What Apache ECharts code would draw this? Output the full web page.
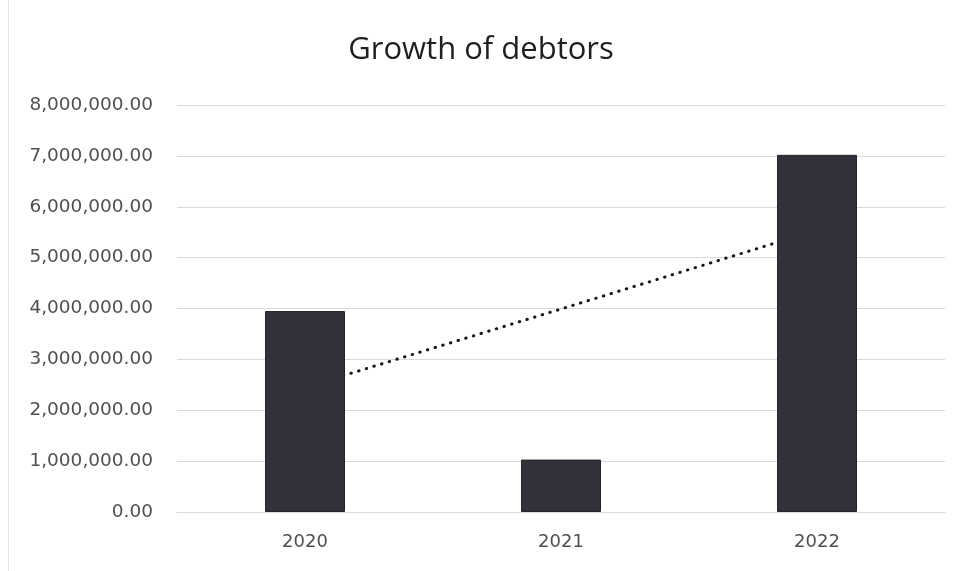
<!DOCTYPE html>
<html>
<head>
<meta charset="utf-8">
<script src="https://cdn.jsdelivr.net/npm/echarts@6/dist/echarts.min.js"></script>
<style>
  html, body { margin: 0; padding: 0; background: #ffffff; }
  #chart { width: 962px; height: 571px; }
</style>
</head>
<body>
<div id="chart"></div>
<script>
// Debtor balances by year
const years = ['2020', '2021', '2022'];
const debtors = [3950000, 1030000, 7020000];
// Linear trend values at each year
const trend = [2450000, 3990000, 5540000];
const yTicks = { min: 0, max: 8000000, interval: 1000000 };

const fmt = v => v.toLocaleString('en-US', { minimumFractionDigits: 2, maximumFractionDigits: 2 });

const chart = echarts.init(document.getElementById('chart'), null, { renderer: 'canvas' });
chart.setOption({
  animation: false,
  backgroundColor: '#ffffff',
  title: {
    text: 'Growth of debtors',
    left: 'center',
    top: 30,
    textStyle: { fontFamily: 'Open Sans', fontWeight: 'normal', fontSize: 31, color: '#1f1f1f' }
  },
  grid: { left: 177, right: 17, top: 105, bottom: 59 },
  xAxis: {
    type: 'category',
    data: years,
    axisLine: { show: true, lineStyle: { color: '#d9d9d9' } },
    axisTick: { show: false },
    axisLabel: { color: '#505050', fontFamily: 'DejaVu Sans', fontSize: 18, margin: 21 }
  },
  yAxis: {
    type: 'value',
    min: yTicks.min,
    max: yTicks.max,
    interval: yTicks.interval,
    axisLine: { show: false },
    axisTick: { show: false },
    splitLine: { lineStyle: { color: '#d9d9d9', width: 1 } },
    axisLabel: { color: '#505050', fontFamily: 'DejaVu Sans', fontSize: 18.5, margin: 24, formatter: fmt }
  },
  series: [
    {
      name: 'Trend',
      type: 'line',
      data: trend,
      z: 1,
      symbol: 'none',
      lineStyle: { color: '#15151c', width: 3, type: [0.5, 7.5], cap: 'round' }
    },
    {
      name: 'Debtors',
      type: 'bar',
      data: debtors,
      z: 3,
      barWidth: 80,
      itemStyle: { color: '#31303b', borderColor: '#24232b', borderWidth: 1 }
    }
  ],
  graphic: [
    {
      type: 'line',
      shape: { x1: 8.5, y1: 0, x2: 8.5, y2: 571 },
      style: { stroke: '#e4e4e4', lineWidth: 1 }
    }
  ]
});
</script>
</body>
</html>
